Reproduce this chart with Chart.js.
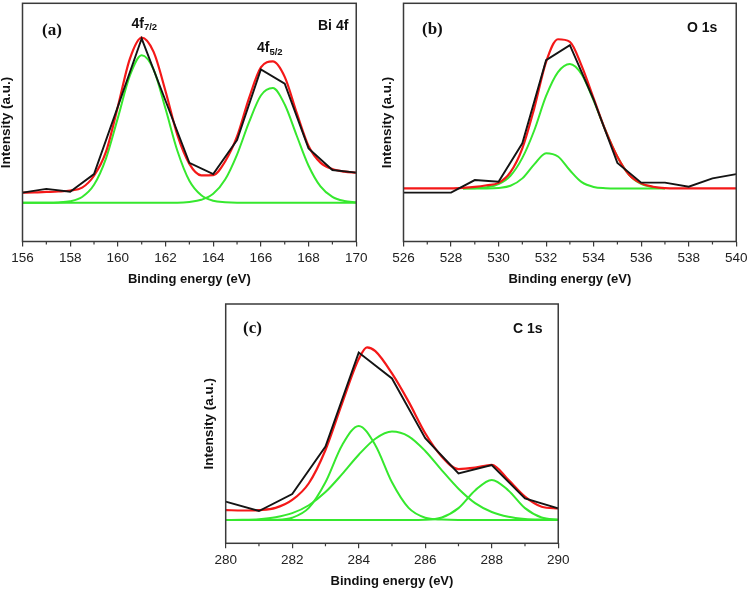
<!DOCTYPE html>
<html>
<head>
<meta charset="utf-8">
<script src="https://cdn.jsdelivr.net/npm/chart.js@4.4.1/dist/chart.umd.min.js"></script>
<style>
  body { margin: 0; background: #fff; width: 753px; height: 590px; overflow: hidden; position: relative; }
  canvas { position: absolute; }
</style>
</head>
<body>
<canvas id="chartA"></canvas>
<canvas id="chartB"></canvas>
<canvas id="chartC"></canvas>
<script>
// ---- (a) Bi 4f ----
const aTicks = [156, 158, 160, 162, 164, 166, 168, 170];
const aRawE = [156, 157, 158, 159, 160, 161, 162, 163, 164, 165, 166, 167, 168, 169, 170];
const aRawI = [19.9, 21.5, 20.3, 27.7, 56.0, 84.6, 58.5, 32.4, 27.7, 42.0, 71.6, 65.7, 38.5, 29.4, 28.3];
const aFitE = [156, 156.5, 157, 157.5, 158, 158.5, 159, 159.5, 160, 160.5, 161, 161.5, 162, 162.5, 163,
               163.5, 164, 164.5, 165, 165.5, 166, 166.5, 167, 167.5, 168, 168.5, 169, 169.5, 170];
const aEnvelope = [19.9, 20.0, 20.2, 20.4, 20.8, 22.0, 27.0, 37.0, 56.0, 76.0, 85.0, 79.0, 62.5, 44.0, 32.0,
                   27.2, 27.3, 33.0, 43.5, 59.5, 72.5, 75.0, 68.5, 53.5, 39.5, 32.5, 29.8, 28.7, 28.3];
const aPeak72 = [15.7, 15.7, 15.7, 15.8, 16.3, 18.1, 23.2, 34.2, 51.3, 68.9, 77.6, 71.6, 55.1, 37.4, 24.9,
                 18.8, 16.5, 15.9, 15.7, 15.7, 15.7, 15.7, 15.7, 15.7, 15.7, 15.7, 15.7, 15.7, 15.7];
const aPeak52 = [15.7, 15.7, 15.7, 15.7, 15.7, 15.7, 15.7, 15.7, 15.7, 15.7, 15.7, 15.7, 15.7, 15.7, 16.0,
                 16.9, 19.4, 25.4, 35.9, 49.4, 60.7, 63.8, 56.9, 43.9, 31.2, 22.5, 18.1, 16.4, 15.9];

// ---- (b) O 1s ----
const bTicks = [526, 528, 530, 532, 534, 536, 538, 540];
const bRawE = [526, 527, 528, 529, 530, 531, 532, 533, 534, 535, 536, 537, 538, 539, 540];
const bRawI = [19.9, 19.9, 19.9, 25.2, 24.5, 40.6, 75.5, 81.8, 59.0, 32.4, 24.1, 24.1, 22.4, 25.9, 27.7];
const bFitE = [526, 526.5, 527, 527.5, 528, 528.5, 529, 529.5, 530, 530.5, 531, 531.5, 532, 532.5, 533,
               533.5, 534, 534.5, 535, 535.5, 536, 536.5, 537, 537.5, 538, 538.5, 539, 539.5, 540];
const bEnvelope = [21.7, 21.7, 21.7, 21.7, 21.7, 21.9, 22.3, 23.0, 24.0, 28.5, 38.5, 55.3, 74.8, 84.3, 83.2,
                   73.0, 59.5, 46.0, 35.0, 27.3, 23.8, 22.4, 21.8, 21.7, 21.7, 21.7, 21.7, 21.7, 21.7];
const bPeakE = [528.5, 529, 529.5, 530, 530.5, 531, 531.5, 532, 532.5, 533, 533.5, 534, 534.5, 535, 535.5, 536, 536.5, 537];
const bPeakMain = [21.7, 21.8, 22.2, 23.5, 27.0, 34.5, 46.0, 60.5, 70.5, 73.9, 69.5, 58.5, 46.0, 35.0, 27.3, 23.6, 22.2, 21.8];
const bPeakMinor = [21.7, 21.7, 21.7, 21.9, 22.8, 25.9, 31.8, 36.5, 35.1, 29.3, 24.3, 22.3, 21.8, 21.7, 21.7, 21.7, 21.7, 21.7];

// ---- (c) C 1s ----
const cTicks = [280, 282, 284, 286, 288, 290];
const cRawE = [280, 281, 282, 283, 284, 285, 286, 287, 288, 289, 290];
const cRawI = [17.4, 13.5, 20.6, 40.4, 79.7, 68.9, 43.9, 29.2, 32.7, 18.8, 14.6];
const cEnvE = [280, 280.5, 281, 281.5, 282, 282.5, 283, 283.5, 284, 284.25, 284.5, 285, 285.5, 286, 286.5,
               287, 287.5, 288, 288.5, 289, 289.5, 290];
const cEnvelope = [13.9, 13.7, 13.9, 14.8, 18.1, 25.1, 39.0, 58.5, 77.0, 81.9, 80.3, 71.0, 59.2, 46.0, 36.2,
                   31.0, 31.6, 32.8, 26.5, 19.5, 15.3, 14.6];
const cFitE = [280, 280.5, 281, 281.5, 282, 282.5, 283, 283.5, 284, 284.5, 285, 285.5, 286, 286.5, 287,
               287.5, 288, 288.5, 289, 289.5, 290];
const cPeakC1 = [9.7, 9.7, 9.7, 9.8, 10.7, 14.8, 25.5, 41.0, 49.0, 41.0, 25.5, 14.8, 10.7, 9.9, 9.7,
                 9.7, 9.7, 9.7, 9.7, 9.7, 9.7];
const cPeakC2 = [9.7, 9.8, 10.1, 10.9, 12.6, 15.9, 21.4, 28.9, 37.0, 43.7, 46.7, 44.7, 38.6, 30.5, 22.8,
                 16.8, 13.1, 11.1, 10.2, 9.9, 9.8];
const cPeakC3 = [9.7, 9.7, 9.7, 9.7, 9.7, 9.7, 9.7, 9.7, 9.7, 9.7, 9.7, 9.7, 9.8, 10.8, 14.7,
                 22.1, 26.5, 22.1, 14.7, 10.8, 9.8];

const BLACK = '#141414', RED = '#f41818', GREEN = '#36e82e';
const SANS = '"Liberation Sans", Arial, sans-serif';
const SERIF = '"Liberation Serif", "Times New Roman", serif';

function pts(xs, ys) {
  return xs.map((x, i) => ({ x: x, y: ys[i] }));
}

function raw(xs, ys) {
  return { data: pts(xs, ys), borderColor: BLACK, borderWidth: 1.9, tension: 0 };
}
function fit(xs, ys) {
  return { data: pts(xs, ys), borderColor: RED, borderWidth: 2.2, cubicInterpolationMode: 'monotone' };
}
function comp(xs, ys) {
  return { data: pts(xs, ys), borderColor: GREEN, borderWidth: 2, cubicInterpolationMode: 'monotone' };
}

// frame, minor ticks and the panel labels
const decor = {
  id: 'decor',
  afterDraw(chart, args, opts) {
    const { ctx, chartArea: a } = chart;
    const xs = chart.scales.x;
    ctx.save();
    ctx.strokeStyle = '#3a3a3a';
    ctx.lineWidth = 1.5;
    ctx.strokeRect(a.left, a.top, a.right - a.left, a.bottom - a.top);
    ctx.lineWidth = 1.2;
    ctx.beginPath();
    for (let v = xs.min + 1; v < xs.max; v += 2) {
      const px = xs.getPixelForValue(v);
      ctx.moveTo(px, a.bottom);
      ctx.lineTo(px, a.bottom + 3);
    }
    ctx.stroke();

    ctx.fillStyle = '#111';
    opts.notes.forEach(n => {
      const x = n.x - opts.ox, y = n.y - opts.oy;
      ctx.font = n.font;
      ctx.textBaseline = n.sub ? 'alphabetic' : 'middle';
      ctx.fillText(n.t, x, y);
      if (n.sub) {
        const w = ctx.measureText(n.t).width;
        ctx.font = 'bold 9.5px ' + SANS;
        ctx.fillText(n.sub, x + w, y + n.drop);
      }
    });
    ctx.restore();
  }
};

function makePanel(id, p) {
  const cv = document.getElementById(id);
  const [L, T, R, B] = p.box;
  const cl = Math.floor(L) - 24, ct = Math.floor(T) - 8;
  const W = Math.ceil(R) + 12 - cl, H = Math.ceil(B) + 50 - ct;
  cv.width = W; cv.height = H;
  cv.style.left = cl + 'px'; cv.style.top = ct + 'px';
  cv.style.width = W + 'px'; cv.style.height = H + 'px';
  const yW = L - cl, xH = H - (B - ct);

  new Chart(cv, {
    type: 'scatter',
    data: { datasets: p.datasets },
    options: {
      responsive: false,
      animation: false,
      showLine: true,
      elements: { point: { radius: 0 } },
      layout: { padding: { left: 0, top: T - ct, right: W - (R - cl), bottom: 0 } },
      plugins: {
        legend: { display: false },
        tooltip: { enabled: false },
        decor: { notes: p.notes, ox: cl, oy: ct }
      },
      scales: {
        x: {
          type: 'linear', min: p.ticks[0], max: p.ticks[p.ticks.length - 1],
          afterBuildTicks: s => { s.ticks = p.ticks.map(v => ({ value: v })); },
          afterFit: s => { s.height = xH; },
          border: { display: false },
          grid: { drawOnChartArea: false, drawTicks: true, tickLength: 5, color: '#3a3a3a', lineWidth: 1.2 },
          ticks: { autoSkip: false, maxRotation: 0, padding: 3.5, color: '#222', font: { family: SANS, size: 13.5 } },
          title: {
            display: true, text: 'Binding energy (eV)', color: '#111',
            font: { family: SANS, size: 13, weight: 'bold', lineHeight: 1 },
            padding: { top: 0, bottom: xH - 44.5 }
          }
        },
        y: {
          min: p.yMin, max: p.yMax,
          afterFit: s => { s.width = yW; },
          border: { display: false },
          grid: { display: false },
          ticks: { display: false },
          title: {
            display: true, text: 'Intensity (a.u.)', color: '#111',
            font: { family: SANS, size: 13.5, weight: 'bold', lineHeight: 1 },
            padding: { top: yW - 16 - 6.75, bottom: 0 }
          }
        }
      }
    },
    plugins: [decor]
  });
}

makePanel('chartA', {
  box: [22.5, 3.3, 359, 241.5], ticks: aTicks, yMin: -0.6, yMax: 99.4,
  datasets: [raw(aRawE, aRawI), fit(aFitE, aEnvelope), comp(aFitE, aPeak72), comp(aFitE, aPeak52)],
  notes: [
    { t: '(a)', x: 42, y: 31, font: 'bold 17px ' + SERIF },
    { t: 'Bi 4f', x: 318, y: 26, font: 'bold 14px ' + SANS },
    { t: '4f', sub: '7/2', drop: 2, x: 131.5, y: 28.3, font: 'bold 14px ' + SANS },
    { t: '4f', sub: '5/2', drop: 3.5, x: 257, y: 51.7, font: 'bold 14px ' + SANS }
  ]
});

makePanel('chartB', {
  box: [403.5, 3.3, 739, 241.5], ticks: bTicks, yMin: -0.6, yMax: 99.4,
  datasets: [raw(bRawE, bRawI), fit(bFitE, bEnvelope), comp(bPeakE, bPeakMain), comp(bPeakE, bPeakMinor)],
  notes: [
    { t: '(b)', x: 422, y: 30, font: 'bold 17px ' + SERIF },
    { t: 'O 1s', x: 687, y: 28, font: 'bold 14px ' + SANS }
  ]
});

makePanel('chartC', {
  box: [225.7, 304, 561, 543.3], ticks: cTicks, yMin: 0, yMax: 100,
  datasets: [raw(cRawE, cRawI), fit(cEnvE, cEnvelope), comp(cFitE, cPeakC1), comp(cFitE, cPeakC2), comp(cFitE, cPeakC3)],
  notes: [
    { t: '(c)', x: 243, y: 328.5, font: 'bold 17px ' + SERIF },
    { t: 'C 1s', x: 513, y: 329, font: 'bold 14px ' + SANS }
  ]
});
</script>
</body>
</html>
